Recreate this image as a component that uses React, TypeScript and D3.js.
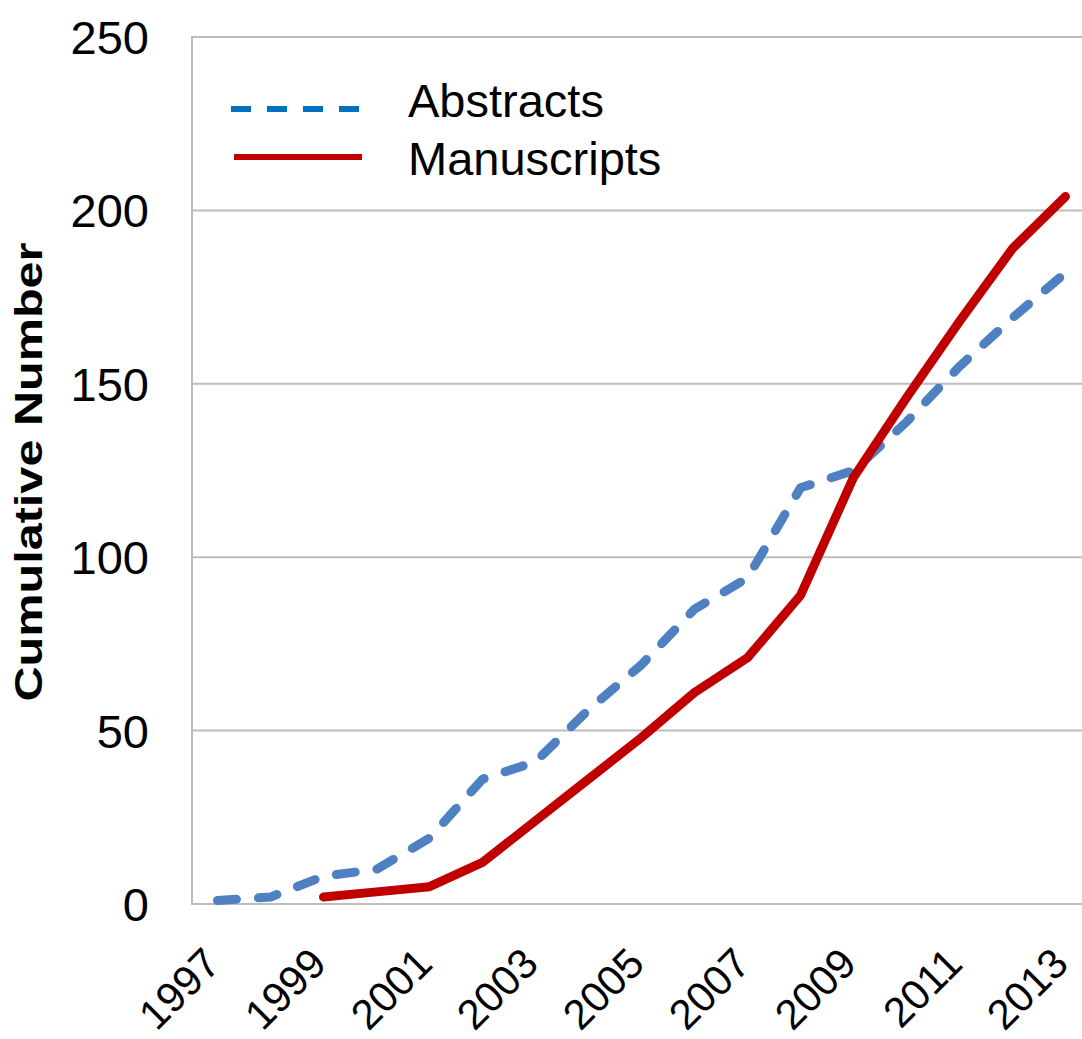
import React from "react";
import * as d3 from "d3";

const years = [1997, 1998, 1999, 2000, 2001, 2002, 2003, 2004, 2005, 2006, 2007, 2008, 2009, 2010, 2011, 2012, 2013];
const abstracts = [1, 2, 8, 10, 19, 36, 41, 56, 69, 85, 94, 120, 125, 139, 155, 169, 182];
const manuscriptYears = [1999, 2000, 2001, 2002, 2003, 2004, 2005, 2006, 2007, 2008, 2009, 2010, 2011, 2012, 2013];
const manuscripts = [2, 3.5, 5, 12, 24, 36, 48, 61, 71, 89, 123, 146, 168, 189, 204];
const yTicks = [0, 50, 100, 150, 200, 250];
const xTickLabels = [1997, 1999, 2001, 2003, 2005, 2007, 2009, 2011, 2013];
const seriesNames = ["Abstracts", "Manuscripts"];

const W = 1082;
const H = 1039;
const FONT = "'Liberation Sans', Arial, sans-serif";

export default function App() {
  const left = 191;
  const right = 1092;
  const top = 37;
  const bottom = 904;
  const x = d3.scalePoint<number>().domain(years).range([left, right]).padding(0.5);
  const y = d3.scaleLinear().domain([0, 250]).range([bottom, top]);

  const lineGen = d3
    .line<[number, number]>()
    .x((d) => x(d[0]) as number)
    .y((d) => y(d[1]));

  const absPts: [number, number][] = years.map((yr, i) => [yr, abstracts[i]]);
  const manPts: [number, number][] = manuscriptYears.map((yr, i) => [yr, manuscripts[i]]);

  return (
    <svg
      width={W}
      height={H}
      style={{ position: "absolute", left: 0, top: 0, background: "#fff" }}
      fontFamily={FONT}
    >
      <rect x={0} y={0} width={W} height={H} fill="#fff" />
      {/* gridlines */}
      {yTicks.map((t) => (
        <line key={t} x1={left} x2={W} y1={y(t)} y2={y(t)} stroke="#BDBDBD" strokeWidth={2} />
      ))}
      <line x1={left + 1} x2={left + 1} y1={top} y2={bottom} stroke="#BDBDBD" strokeWidth={2} />

      {/* y tick labels */}
      {yTicks.map((t) => (
        <text key={t} x={149} y={y(t) + 17} textAnchor="end" fontSize={47} fill="#000">
          {t}
        </text>
      ))}

      {/* y title */}
      <text
        transform={`translate(42, 472) rotate(-90)`}
        textAnchor="middle"
        fontSize={38}
        fontWeight="bold"
        textLength={459}
        lengthAdjust="spacingAndGlyphs"
        fill="#000"
      >
        Cumulative Number
      </text>

      {/* x labels */}
      {xTickLabels.map((yr) => (
        <text
          key={yr}
          transform={`translate(${(x(yr) as number) + 5}, 966) rotate(-45)`}
          textAnchor="end"
          fontSize={42}
          fill="#000"
        >
          {yr}
        </text>
      ))}

      {/* series */}
      <path
        d={lineGen(absPts) || ""}
        fill="none"
        stroke="#4E80C2"
        strokeWidth={9}
        strokeDasharray="19 22"
        strokeLinecap="round"
        strokeLinejoin="round"
      />
      <path
        d={lineGen(manPts) || ""}
        fill="none"
        stroke="#C00000"
        strokeWidth={9}
        strokeLinecap="round"
        strokeLinejoin="round"
      />

      {/* legend */}
      <line x1={231} x2={359} y1={109} y2={109} stroke="#0070C0" strokeWidth={6} strokeDasharray="20 16" />
      <line x1={234} x2={362} y1={157} y2={157} stroke="#C00000" strokeWidth={6} />
      <text x={408} y={117} fontSize={47} fill="#000">
        {seriesNames[0]}
      </text>
      <text x={408} y={175} fontSize={47} fill="#000">
        {seriesNames[1]}
      </text>
    </svg>
  );
}
